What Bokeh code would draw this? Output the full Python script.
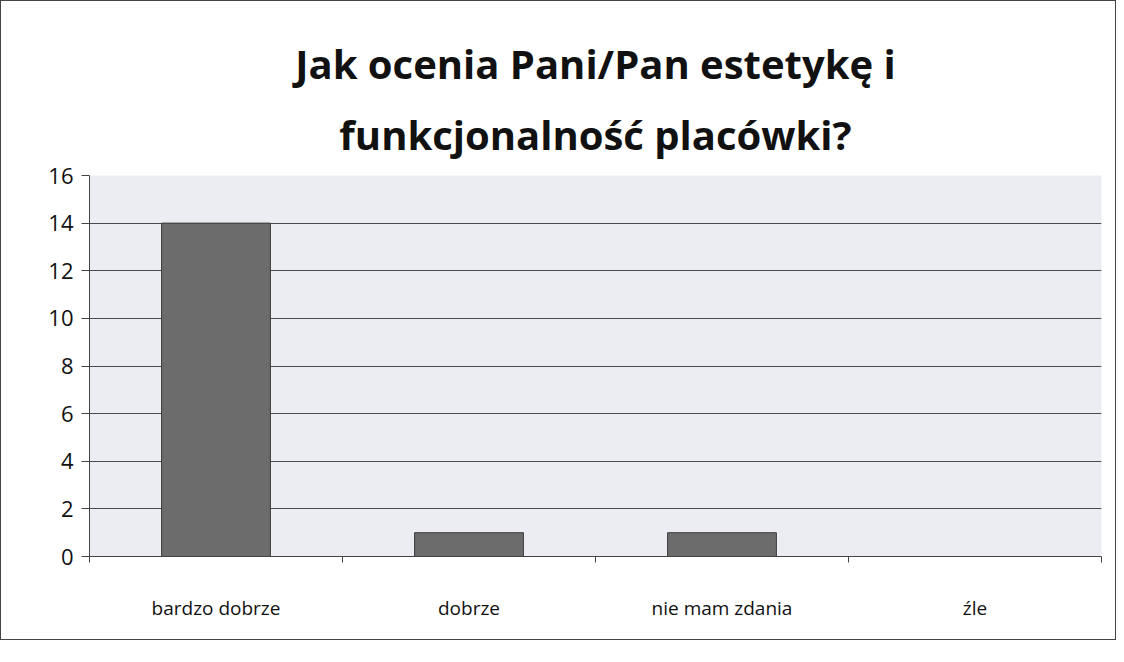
from bokeh.plotting import figure
from bokeh.models import FixedTicker, Range1d, Title, ColumnDataSource
from bokeh.embed import file_html
from bokeh.resources import INLINE

title_line1 = "Jak ocenia Pani/Pan estetykę i"
title_line2 = "funkcjonalność placówki?"
categories = ["bardzo dobrze", "dobrze", "nie mam zdania", "źle"]
counts = [14, 1, 1, 0]
y_ticks = [0, 2, 4, 6, 8, 10, 12, 14, 16]

xpos = [i + 0.5 for i in range(len(categories))]
src = ColumnDataSource(dict(x=xpos, top=counts, cat=categories))

p = figure(width=1116, height=640, output_backend="svg", toolbar_location=None,
           x_range=Range1d(0, len(categories)), y_range=Range1d(0, 16),
           min_border_left=88, min_border_right=16, min_border_bottom=85,
           min_border_top=174,
           background_fill_color="#ffffff", border_fill_color="#ffffff")
p.styles = {"border": "1.5px solid #444"}

p.add_layout(Title(text=title_line2, align="center", text_font="Open Sans",
                   text_font_size="40px", text_font_style="bold", text_color="#111111",
                   standoff=28), "above")
p.add_layout(Title(text=title_line1, align="center", text_font="Open Sans",
                   text_font_size="40px", text_font_style="bold", text_color="#111111",
                   standoff=0), "above")

p.vbar(x="x", top="top", width=0.43, source=src, fill_color="#6c6c6c",
       line_color="#3a3a3a", line_width=1)

p.background_fill_color = "#ecedf2"
p.outline_line_color = None

p.xaxis.ticker = FixedTicker(ticks=xpos, minor_ticks=list(range(len(categories) + 1)))
p.xaxis.major_label_overrides = {x: c for x, c in zip(xpos, categories)}
p.xaxis.major_tick_line_color = None
p.xaxis.minor_tick_line_color = "#444444"
p.xaxis.minor_tick_out = 6
p.xaxis.minor_tick_in = 0
p.xaxis.major_label_standoff = 32
p.xaxis.major_label_text_font = "Open Sans"
p.xaxis.major_label_text_font_size = "19px"
p.xaxis.major_label_text_color = "#111111"
p.xaxis.axis_line_color = "#444444"

p.yaxis.ticker = FixedTicker(ticks=y_ticks)
p.yaxis.minor_tick_line_color = None
p.yaxis.major_tick_out = 8
p.yaxis.major_tick_in = 0
p.yaxis.major_tick_line_color = "#444444"
p.yaxis.axis_line_color = "#444444"
p.yaxis.major_label_standoff = 8
p.yaxis.major_label_text_font = "Open Sans"
p.yaxis.major_label_text_font_size = "22px"
p.yaxis.major_label_text_color = "#111111"

p.xgrid.grid_line_color = None
p.ygrid.grid_line_color = "#4a4a4a"
p.ygrid.grid_line_width = 1.2

open("out.html", "w").write(file_html(p, INLINE))
